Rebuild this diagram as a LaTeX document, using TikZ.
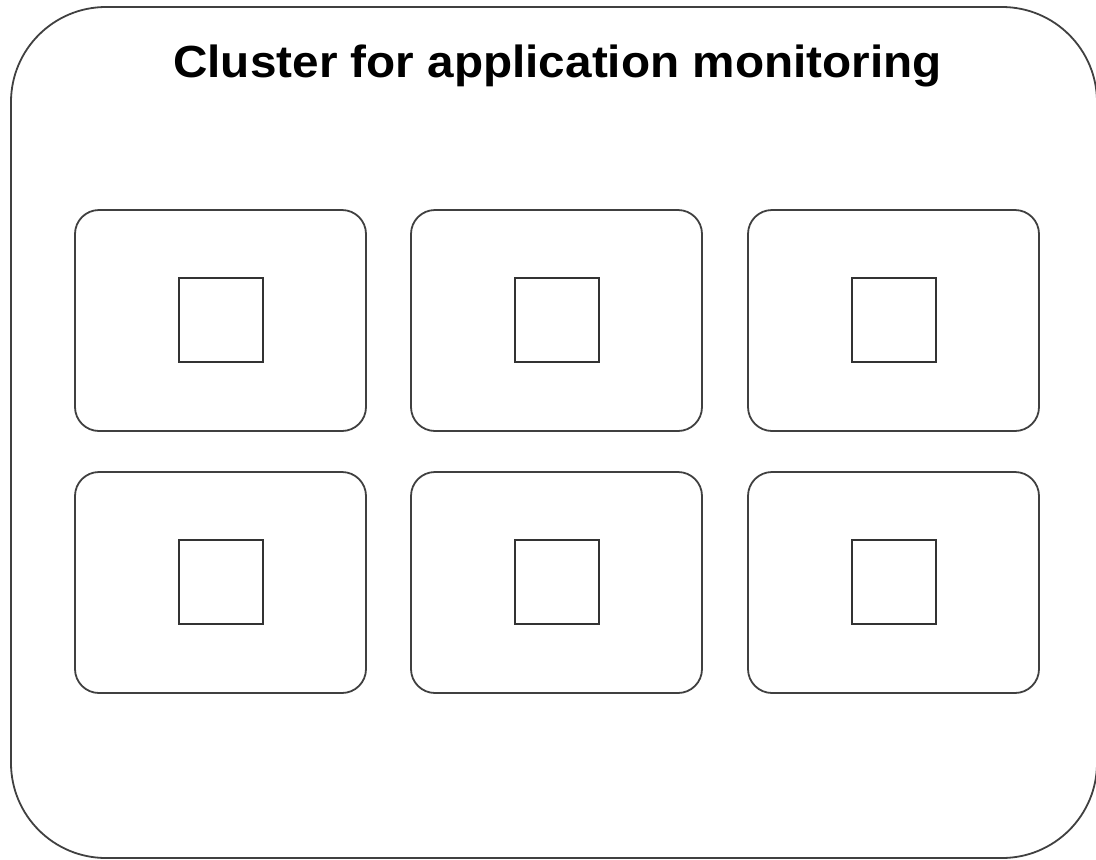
\documentclass[tikz,border=0pt]{standalone}
\usepackage{fontspec}
\setmainfont{Liberation Sans}
\begin{document}
\begin{tikzpicture}[x=1pt,y=-1pt,
  line/.style={draw=black!75,line width=1.8pt},
  nodebox/.style={line,rounded corners=24pt},
  podbox/.style={draw=black!80,line width=1.8pt}]
\useasboundingbox (0,0) rectangle (1096,860);
\draw[line,rounded corners=95pt] (11,7) rectangle (1097,858);
\node[font=\bfseries\fontsize{45}{48}\selectfont,anchor=base,xscale=1.06,inner sep=0pt] (title) at (557.5,77) {Cluster for application monitoring};
\foreach \c/\x in {1/75,2/411,3/748}{
  \foreach \r/\y in {1/210,2/472}{
    \draw[nodebox] (\x,\y) rectangle ++(291,221);
    \draw[podbox] (\x+104,\y+68) rectangle ++(84,84);
  }
}
\end{tikzpicture}
\end{document}
